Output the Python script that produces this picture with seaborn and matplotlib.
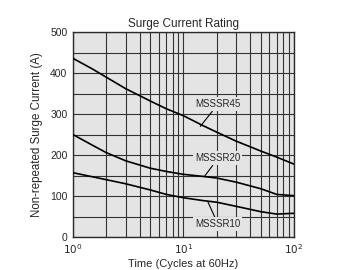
import pandas as pd
import numpy as np
import matplotlib.pyplot as plt
import seaborn as sns
from matplotlib.ticker import FixedLocator, NullFormatter

# Data
cycles = [1, 1.5, 2, 3, 5, 7, 10, 15, 20, 30, 50, 70, 100]
r45 = [436, 410, 390, 362, 332, 313, 296, 272, 256, 234, 210, 195, 178]
r20 = [250, 224, 206, 186, 168, 160, 153, 148, 144, 134, 118, 104, 101]
r10 = [157, 147, 140, 130, 115, 104, 96, 89, 85, 75, 62, 56, 58]
series_names = ['MSSSR45', 'MSSSR20', 'MSSSR10']

df = pd.concat([
    pd.DataFrame({'cycles': cycles, 'current': r45, 'part': 'MSSSR45'}),
    pd.DataFrame({'cycles': cycles, 'current': r20, 'part': 'MSSSR20'}),
    pd.DataFrame({'cycles': cycles, 'current': r10, 'part': 'MSSSR10'}),
])

sns.set_style('white')
plt.rcParams['font.family'] = ['Liberation Sans Narrow', 'Liberation Sans', 'DejaVu Sans']

fig = plt.figure(figsize=(3.58, 2.7), dpi=100)
ax = fig.add_axes([0.204, 0.122, 0.617, 0.759])
ax.set_facecolor('#e4e4e4')

sns.lineplot(data=df, x='cycles', y='current', hue='part', palette=['black'] * 3,
             legend=False, linewidth=1.2, ax=ax, zorder=3)

ax.set_xscale('log')
ax.set_xlim(1, 100)
ax.set_ylim(0, 500)

# grid: every log minor, every 50 A
ax.xaxis.set_minor_locator(FixedLocator([k * 10 ** d for d in range(2) for k in range(2, 10)]))
ax.xaxis.set_minor_formatter(NullFormatter())
ax.set_xticks([1, 10, 100])
ax.set_xticklabels(['$10^0$', '$10^1$', '$10^2$'])
ax.set_yticks([0, 100, 200, 300, 400, 500])
ax.yaxis.set_minor_locator(FixedLocator([50, 150, 250, 350, 450]))
ax.grid(True, which='both', color='#333333', linewidth=0.8)
ax.tick_params(which='both', length=0, labelsize=7.5)
ax.tick_params(axis='x', pad=4)
ax.tick_params(axis='y', pad=4)
for s in ax.spines.values():
    s.set_color('#2a2a2a')
    s.set_linewidth(1)

ax.set_title('Surge Current Rating', fontsize=8.5, pad=4)
ax.set_xlabel('Time (Cycles at 60Hz)', fontsize=8, labelpad=2)
ax.set_ylabel('Non-repeated Surge Current (A)', fontsize=8.3, labelpad=5)

# labels with leader lines
bbox = dict(boxstyle='square,pad=0.2', fc='#e4e4e4', ec='none')
arrow = dict(arrowstyle='-', color='black', lw=0.8, shrinkA=0, shrinkB=0)
ax.annotate('MSSSR45', xy=(14.2, 270), xytext=(20.5, 324), fontsize=7, ha='center', va='center',
            bbox=bbox, arrowprops=arrow, zorder=4)
ax.annotate('MSSSR20', xy=(15.5, 148), xytext=(20.5, 192), fontsize=7, ha='center', va='center',
            bbox=bbox, arrowprops=arrow, zorder=4)
ax.annotate('MSSSR10', xy=(16.5, 88), xytext=(20.5, 32), fontsize=7, ha='center', va='center',
            bbox=bbox, arrowprops=arrow, zorder=4)

fig.savefig('out.png', dpi=100)
